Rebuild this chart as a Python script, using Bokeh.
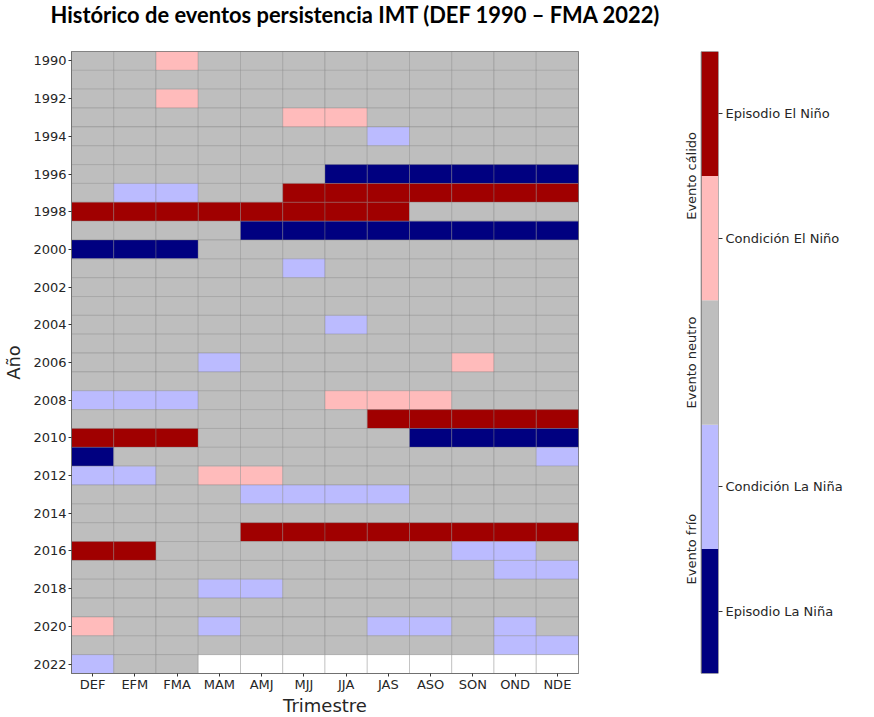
import math
from bokeh.plotting import figure
from bokeh.models import ColumnDataSource, FactorRange, Range1d, FixedTicker, Title
from bokeh.layouts import row
from bokeh.embed import file_html
from bokeh.resources import INLINE
from bokeh.core.properties import value

# ---------------- data ----------------
trimestres = ["DEF", "EFM", "FMA", "MAM", "AMJ", "MJJ", "JJA", "JAS", "ASO", "SON", "OND", "NDE"]
N = None  # sin dato

a1990 = [0, 0, 1, 0, 0, 0, 0, 0, 0, 0, 0, 0]
a1991 = [0, 0, 0, 0, 0, 0, 0, 0, 0, 0, 0, 0]
a1992 = [0, 0, 1, 0, 0, 0, 0, 0, 0, 0, 0, 0]
a1993 = [0, 0, 0, 0, 0, 1, 1, 0, 0, 0, 0, 0]
a1994 = [0, 0, 0, 0, 0, 0, 0, -1, 0, 0, 0, 0]
a1995 = [0, 0, 0, 0, 0, 0, 0, 0, 0, 0, 0, 0]
a1996 = [0, 0, 0, 0, 0, 0, -2, -2, -2, -2, -2, -2]
a1997 = [0, -1, -1, 0, 0, 2, 2, 2, 2, 2, 2, 2]
a1998 = [2, 2, 2, 2, 2, 2, 2, 2, 0, 0, 0, 0]
a1999 = [0, 0, 0, 0, -2, -2, -2, -2, -2, -2, -2, -2]
a2000 = [-2, -2, -2, 0, 0, 0, 0, 0, 0, 0, 0, 0]
a2001 = [0, 0, 0, 0, 0, -1, 0, 0, 0, 0, 0, 0]
a2002 = [0, 0, 0, 0, 0, 0, 0, 0, 0, 0, 0, 0]
a2003 = [0, 0, 0, 0, 0, 0, 0, 0, 0, 0, 0, 0]
a2004 = [0, 0, 0, 0, 0, 0, -1, 0, 0, 0, 0, 0]
a2005 = [0, 0, 0, 0, 0, 0, 0, 0, 0, 0, 0, 0]
a2006 = [0, 0, 0, -1, 0, 0, 0, 0, 0, 1, 0, 0]
a2007 = [0, 0, 0, 0, 0, 0, 0, 0, 0, 0, 0, 0]
a2008 = [-1, -1, -1, 0, 0, 0, 1, 1, 1, 0, 0, 0]
a2009 = [0, 0, 0, 0, 0, 0, 0, 2, 2, 2, 2, 2]
a2010 = [2, 2, 2, 0, 0, 0, 0, 0, -2, -2, -2, -2]
a2011 = [-2, 0, 0, 0, 0, 0, 0, 0, 0, 0, 0, -1]
a2012 = [-1, -1, 0, 1, 1, 0, 0, 0, 0, 0, 0, 0]
a2013 = [0, 0, 0, 0, -1, -1, -1, -1, 0, 0, 0, 0]
a2014 = [0, 0, 0, 0, 0, 0, 0, 0, 0, 0, 0, 0]
a2015 = [0, 0, 0, 0, 2, 2, 2, 2, 2, 2, 2, 2]
a2016 = [2, 2, 0, 0, 0, 0, 0, 0, 0, -1, -1, 0]
a2017 = [0, 0, 0, 0, 0, 0, 0, 0, 0, 0, -1, -1]
a2018 = [0, 0, 0, -1, -1, 0, 0, 0, 0, 0, 0, 0]
a2019 = [0, 0, 0, 0, 0, 0, 0, 0, 0, 0, 0, 0]
a2020 = [1, 0, 0, -1, 0, 0, 0, -1, -1, 0, -1, 0]
a2021 = [0, 0, 0, 0, 0, 0, 0, 0, 0, 0, -1, -1]
a2022 = [-1, 0, 0, N, N, N, N, N, N, N, N, N]

anios = [1990, 1991, 1992, 1993, 1994, 1995, 1996, 1997, 1998, 1999, 2000,
         2001, 2002, 2003, 2004, 2005, 2006, 2007, 2008, 2009, 2010, 2011,
         2012, 2013, 2014, 2015, 2016, 2017, 2018, 2019, 2020, 2021, 2022]
filas = [a1990, a1991, a1992, a1993, a1994, a1995, a1996, a1997, a1998, a1999, a2000,
         a2001, a2002, a2003, a2004, a2005, a2006, a2007, a2008, a2009, a2010, a2011,
         a2012, a2013, a2014, a2015, a2016, a2017, a2018, a2019, a2020, a2021, a2022]
ticks_anio = [1990, 1992, 1994, 1996, 1998, 2000, 2002, 2004, 2006, 2008, 2010,
              2012, 2014, 2016, 2018, 2020, 2022]

cb_valores = [-2, -1, 0, 1, 2]
cb_colores = ["#000080", "#BBBBFF", "#BEBEBE", "#FFBBBB", "#A00000"]
cb_ticks = [-2, -1, 1, 2]
cb_etiquetas = ["Episodio La Niña", "Condición La Niña", "Condición El Niño", "Episodio El Niño"]
grupos = ["Evento frío", "Evento neutro", "Evento cálido"]
grupos_pos = [-1.5, 0, 1.5]

titulo = "Histórico de eventos persistencia IMT (DEF 1990 – FMA 2022)"

color_de = dict(zip(cb_valores, cb_colores))
color_nan = "#FFFFFF"

xs, ys, cs = [], [], []
for anio, fila in zip(anios, filas):
    for t, v in zip(trimestres, fila):
        xs.append(t)
        ys.append(anio)
        cs.append(color_nan if v is None else color_de[v])
src = ColumnDataSource(dict(x=xs, y=ys, color=cs))

TICK_FONT = "DejaVu Sans"
TXT = "#262626"
FRAME_H = 622
BOTTOM = 36

# ---------------- main heatmap ----------------
p = figure(frame_width=507, frame_height=FRAME_H, title=None,
           x_range=FactorRange(factors=trimestres, range_padding=0),
           y_range=Range1d(2022.5, 1989.5),
           output_backend="svg", toolbar_location=None,
           min_border_left=65, min_border_right=102,
           min_border_top=0, min_border_bottom=BOTTOM)
p.rect(x="x", y="y", width=1, height=1, source=src,
       fill_color="color", line_color="#808080", line_alpha=0.35, line_width=1)

# spacer (closest to the frame) + real title on top
p.add_layout(Title(text=" ", text_font_size="1px", standoff=19), "above")
p.add_layout(Title(text=titulo, text_font="Lato", text_font_style="bold",
                   text_font_size="21.9px", text_color="#000000",
                   align="left", offset=-21, standoff=0,
                   vertical_align="top"), "above")

p.grid.visible = False
p.outline_line_color = "#707070"
p.outline_line_width = 1

for ax in (p.xaxis[0], p.yaxis[0]):
    ax.axis_line_color = "#707070"
    ax.major_tick_in = 0
    ax.major_tick_out = 3
    ax.major_tick_line_color = "#333333"
    ax.minor_tick_line_color = None
    ax.major_label_text_font = TICK_FONT
    ax.major_label_text_font_size = "13px"
    ax.major_label_text_color = TXT
    ax.axis_label_text_font = TICK_FONT
    ax.axis_label_text_font_size = "18px"
    ax.axis_label_text_font_style = "normal"
    ax.axis_label_text_color = TXT

p.yaxis.ticker = FixedTicker(ticks=ticks_anio)
p.yaxis.axis_label = "Año"
p.yaxis.major_label_standoff = 2
p.yaxis.axis_label_standoff = 6
p.xaxis.axis_label = "Trimestre"
p.xaxis.major_label_standoff = 0
p.xaxis.axis_label_standoff = 0

# ---------------- colour bar ----------------
p2 = figure(frame_width=38, frame_height=FRAME_H,
            x_range=Range1d(-1.7, 0.5), y_range=Range1d(-2.5, 2.5),
            output_backend="svg", toolbar_location=None,
            x_axis_location=None, y_axis_location="right",
            min_border_left=0, min_border_right=132,
            min_border_top=41, min_border_bottom=BOTTOM)
p2.grid.visible = False
p2.outline_line_color = None
cb_src = ColumnDataSource(dict(y=cb_valores, color=cb_colores, x=[0] * len(cb_valores)))
p2.rect(x="x", y="y", width=1, height=1, source=cb_src,
        fill_color="color", line_color=None)
p2.rect(x=[0], y=[0], width=1, height=5, fill_color=None,
        line_color="#707070", line_width=1)
gsrc = ColumnDataSource(dict(x=[-1.05] * len(grupos), y=grupos_pos, t=grupos))
p2.text(x="x", y="y", text="t", source=gsrc, angle=math.pi / 2,
        text_align="center", text_baseline="middle",
        text_font=value(TICK_FONT), text_font_size="13px", text_color=TXT)

ay = p2.yaxis[0]
ay.ticker = FixedTicker(ticks=cb_ticks)
ay.major_label_overrides = dict(zip(cb_ticks, cb_etiquetas))
ay.axis_line_color = None
ay.major_tick_in = 0
ay.major_tick_out = 4
ay.major_tick_line_color = "#333333"
ay.minor_tick_line_color = None
ay.major_label_standoff = 3
ay.major_label_text_font = TICK_FONT
ay.major_label_text_font_size = "13px"
ay.major_label_text_color = TXT

layout = row(p, p2)
open("out.html", "w").write(file_html(layout, INLINE))
